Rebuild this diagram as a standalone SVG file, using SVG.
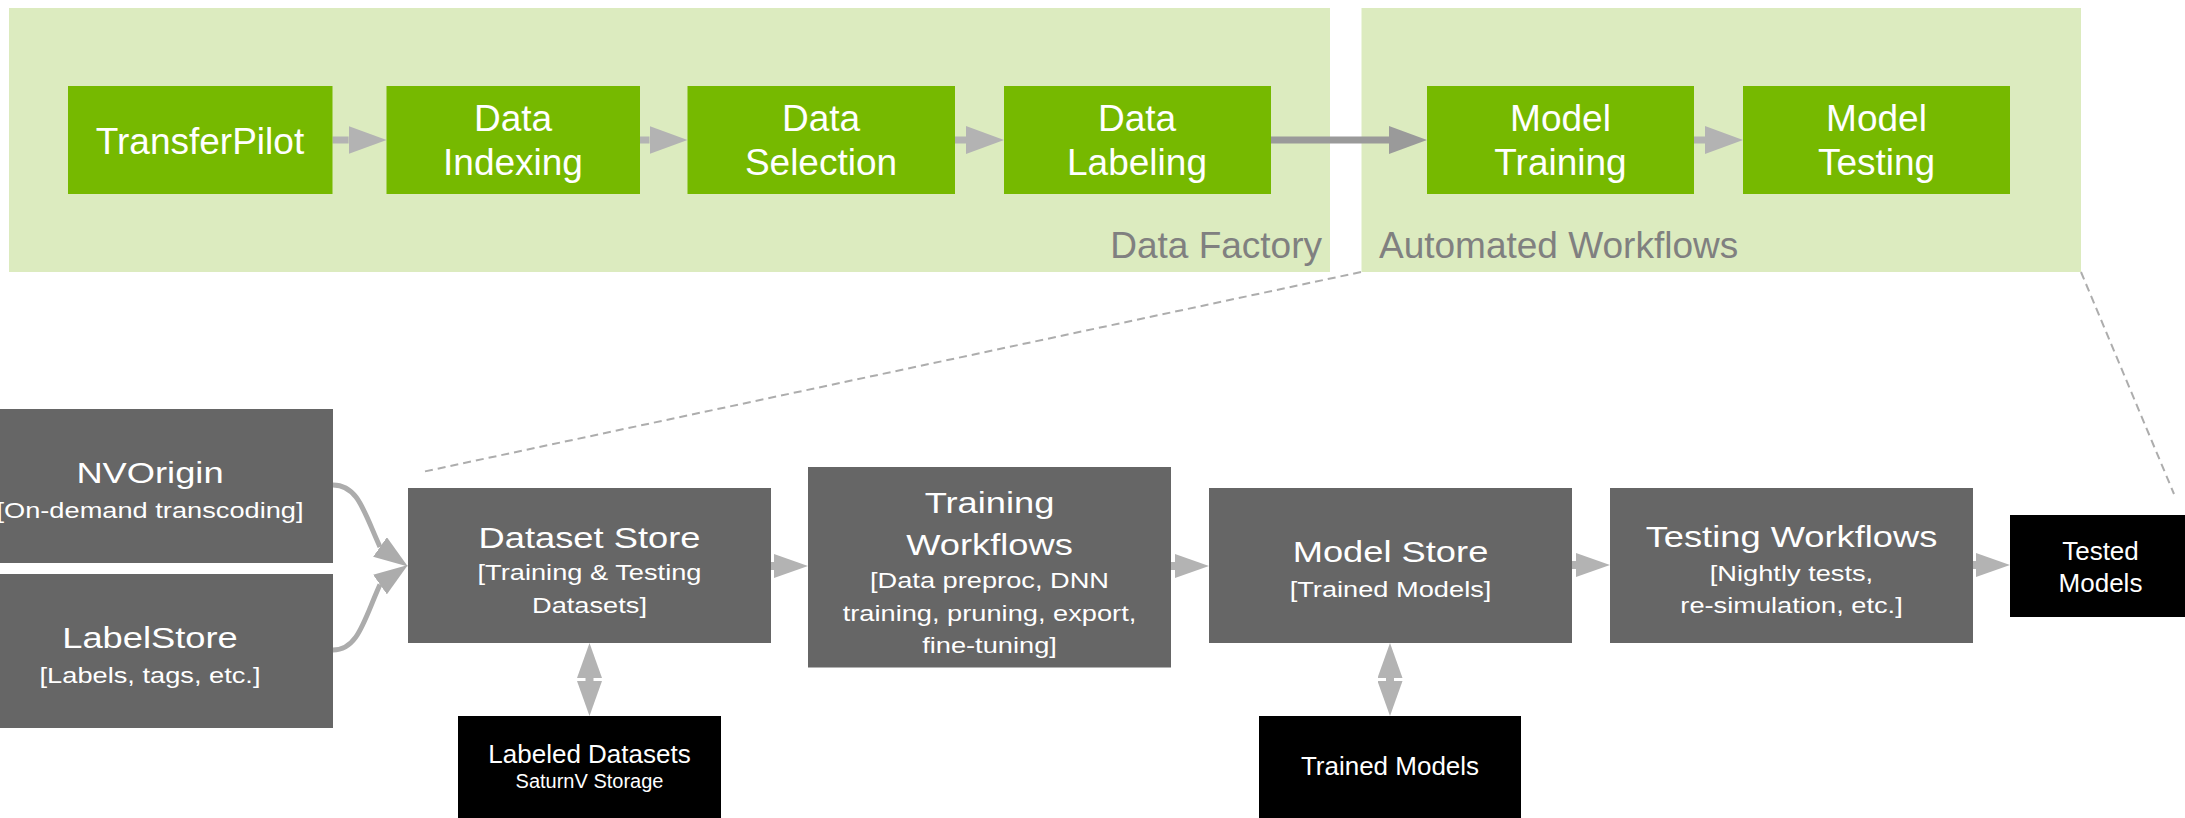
<svg xmlns="http://www.w3.org/2000/svg" width="2185" height="818" viewBox="0 0 2185 818">
<style>
text{font-family:"Liberation Sans",Arial,sans-serif;text-anchor:middle;}
.bg{fill:#dcebbf;}
.grn{fill:#76b900;}
.gry{fill:#666666;}
.blk{fill:#000000;}
.tg{fill:#ffffff;font-size:37px;}
.lab{fill:#808080;font-size:37px;}
.h{fill:#ffffff;font-size:30px;}
.s{fill:#ffffff;font-size:22.5px;}
.bt{fill:#ffffff;font-size:26px;}
.bs{fill:#ffffff;font-size:20px;}
.al{fill:none;stroke:#b3b3b3;stroke-width:7;}
.ad{fill:none;stroke:#9a9a9a;stroke-width:7;}
.ab{fill:none;stroke:#b3b3b3;stroke-width:8;}
.cv{fill:none;stroke:#acacac;stroke-width:5;}
.dash{fill:none;stroke:#adadad;stroke-width:2;stroke-dasharray:8 5;}
</style>
<defs>
<marker id="ahTop" viewBox="0 0 38 28" refX="0" refY="14" markerWidth="38" markerHeight="28" markerUnits="userSpaceOnUse" orient="auto"><path d="M0,0 L38,14 L0,28 z" fill="#b3b3b3"/></marker>
<marker id="ahTopDark" viewBox="0 0 38 28" refX="0" refY="14" markerWidth="38" markerHeight="28" markerUnits="userSpaceOnUse" orient="auto"><path d="M0,0 L38,14 L0,28 z" fill="#9a9a9a"/></marker>
<marker id="ahBot" viewBox="0 0 34 24" refX="0" refY="12" markerWidth="34" markerHeight="24" markerUnits="userSpaceOnUse" orient="auto"><path d="M0,0 L34,12 L0,24 z" fill="#b3b3b3"/></marker>
<marker id="ahV" viewBox="0 0 35 25" refX="0" refY="12.5" markerWidth="35" markerHeight="25" markerUnits="userSpaceOnUse" orient="auto-start-reverse"><path d="M0,0 L35,12.5 L0,25 z" fill="#b3b3b3"/></marker>
<marker id="ahCvDown" viewBox="0 0 34 24" refX="0" refY="12" markerWidth="34" markerHeight="24" markerUnits="userSpaceOnUse" orient="35"><path d="M0,0 L34,12 L0,24 z" fill="#acacac"/></marker>
<marker id="ahCvUp" viewBox="0 0 34 24" refX="0" refY="12" markerWidth="34" markerHeight="24" markerUnits="userSpaceOnUse" orient="-35"><path d="M0,0 L34,12 L0,24 z" fill="#acacac"/></marker>
</defs>

<g id="data-factory">
<rect class="bg" x="9" y="8" width="1321" height="264"/>
<text class="lab" x="1322" y="258" style="text-anchor:end">Data Factory</text>
</g>
<g id="automated-workflows">
<rect class="bg" x="1361.5" y="8" width="719.5" height="264"/>
<text class="lab" x="1379" y="258" style="text-anchor:start">Automated Workflows</text>
</g>

<g id="connectors">
<path class="al" d="M332.5,140 H348.6" marker-end="url(#ahTop)"/>
<path class="al" d="M640,140 H649.5" marker-end="url(#ahTop)"/>
<path class="al" d="M955,140 H966" marker-end="url(#ahTop)"/>
<path class="ad" d="M1271,140 H1389" marker-end="url(#ahTopDark)"/>
<path class="al" d="M1694,140 H1705" marker-end="url(#ahTop)"/>
<path class="ab" d="M770.5,566 H774" marker-end="url(#ahBot)"/>
<path class="ab" d="M1170.5,566 H1175" marker-end="url(#ahBot)"/>
<path class="ab" d="M1572,565 H1576" marker-end="url(#ahBot)"/>
<path class="ab" d="M1973,565 H1976" marker-end="url(#ahBot)"/>
<path class="ab" d="M589.5,678 V681" marker-start="url(#ahV)" marker-end="url(#ahV)"/>
<path class="ab" d="M1390,678 V681" marker-start="url(#ahV)" marker-end="url(#ahV)"/>
<path class="cv" d="M333,485 C358,485 364,512 380,547" marker-end="url(#ahCvDown)"/>
<path class="cv" d="M333,650 C358,650 364,620 380,584.5" marker-end="url(#ahCvUp)"/>
<path class="dash" d="M1361,272 L422,472"/>
<path class="dash" d="M2081,272 L2174,494"/>
</g>

<g id="transferpilot">
<rect class="grn" x="68" y="86" width="264.5" height="108"/>
<text class="tg" x="200" y="154">TransferPilot</text>
</g>
<g id="data-indexing">
<rect class="grn" x="386.5" y="86" width="253.5" height="108"/>
<text class="tg" x="513"><tspan x="513" y="131">Data</tspan><tspan x="513" y="175">Indexing</tspan></text>
</g>
<g id="data-selection">
<rect class="grn" x="687.5" y="86" width="267.5" height="108"/>
<text class="tg" x="821"><tspan x="821" y="131">Data</tspan><tspan x="821" y="175">Selection</tspan></text>
</g>
<g id="data-labeling">
<rect class="grn" x="1004" y="86" width="267" height="108"/>
<text class="tg" x="1137"><tspan x="1137" y="131">Data</tspan><tspan x="1137" y="175">Labeling</tspan></text>
</g>
<g id="model-training">
<rect class="grn" x="1427" y="86" width="267" height="108"/>
<text class="tg" x="1560.5"><tspan x="1560.5" y="131">Model</tspan><tspan x="1560.5" y="175">Training</tspan></text>
</g>
<g id="model-testing">
<rect class="grn" x="1743" y="86" width="267" height="108"/>
<text class="tg" x="1876.5"><tspan x="1876.5" y="131">Model</tspan><tspan x="1876.5" y="175">Testing</tspan></text>
</g>

<g id="nvorigin">
<rect class="gry" x="-32" y="409" width="365" height="154"/>
<text transform="translate(150,0) scale(1.21,1)"><tspan class="h" x="0" y="483">NVOrigin</tspan><tspan class="s" x="0" y="518.5">[On-demand transcoding]</tspan></text>
</g>
<g id="labelstore">
<rect class="gry" x="-32" y="574" width="365" height="154"/>
<text transform="translate(150,0) scale(1.21,1)"><tspan class="h" x="0" y="648">LabelStore</tspan><tspan class="s" x="0" y="683.5">[Labels, tags, etc.]</tspan></text>
</g>
<g id="dataset-store">
<rect class="gry" x="408" y="488" width="363" height="155"/>
<text transform="translate(589.5,0) scale(1.21,1)"><tspan class="h" x="0" y="548">Dataset Store</tspan><tspan class="s" x="0" y="580">[Training &amp; Testing</tspan><tspan class="s" x="0" y="613">Datasets]</tspan></text>
</g>
<g id="training-workflows">
<rect class="gry" x="808" y="467" width="363" height="200.5"/>
<text transform="translate(989.5,0) scale(1.21,1)"><tspan class="h" x="0" y="513">Training</tspan><tspan class="h" x="0" y="555">Workflows</tspan><tspan class="s" x="0" y="588">[Data preproc, DNN</tspan><tspan class="s" x="0" y="621">training, pruning, export,</tspan><tspan class="s" x="0" y="653">fine-tuning]</tspan></text>
</g>
<g id="model-store">
<rect class="gry" x="1209" y="488" width="363" height="155"/>
<text transform="translate(1390.5,0) scale(1.21,1)"><tspan class="h" x="0" y="562">Model Store</tspan><tspan class="s" x="0" y="597">[Trained Models]</tspan></text>
</g>
<g id="testing-workflows">
<rect class="gry" x="1610" y="488" width="363" height="155"/>
<text transform="translate(1791.5,0) scale(1.21,1)"><tspan class="h" x="0" y="547">Testing Workflows</tspan><tspan class="s" x="0" y="581">[Nightly tests,</tspan><tspan class="s" x="0" y="613">re-simulation, etc.]</tspan></text>
</g>
<g id="tested-models">
<rect class="blk" x="2010" y="515" width="181" height="102"/>
<text class="bt" x="2100.5"><tspan x="2100.5" y="560">Tested</tspan><tspan x="2100.5" y="592">Models</tspan></text>
</g>
<g id="labeled-datasets">
<rect class="blk" x="458" y="716" width="263" height="102"/>
<text class="bt" x="589.5" y="763">Labeled Datasets</text>
<text class="bs" x="589.5" y="788">SaturnV Storage</text>
</g>
<g id="trained-models">
<rect class="blk" x="1259" y="716" width="262" height="102"/>
<text class="bt" x="1390" y="775">Trained Models</text>
</g>
</svg>
